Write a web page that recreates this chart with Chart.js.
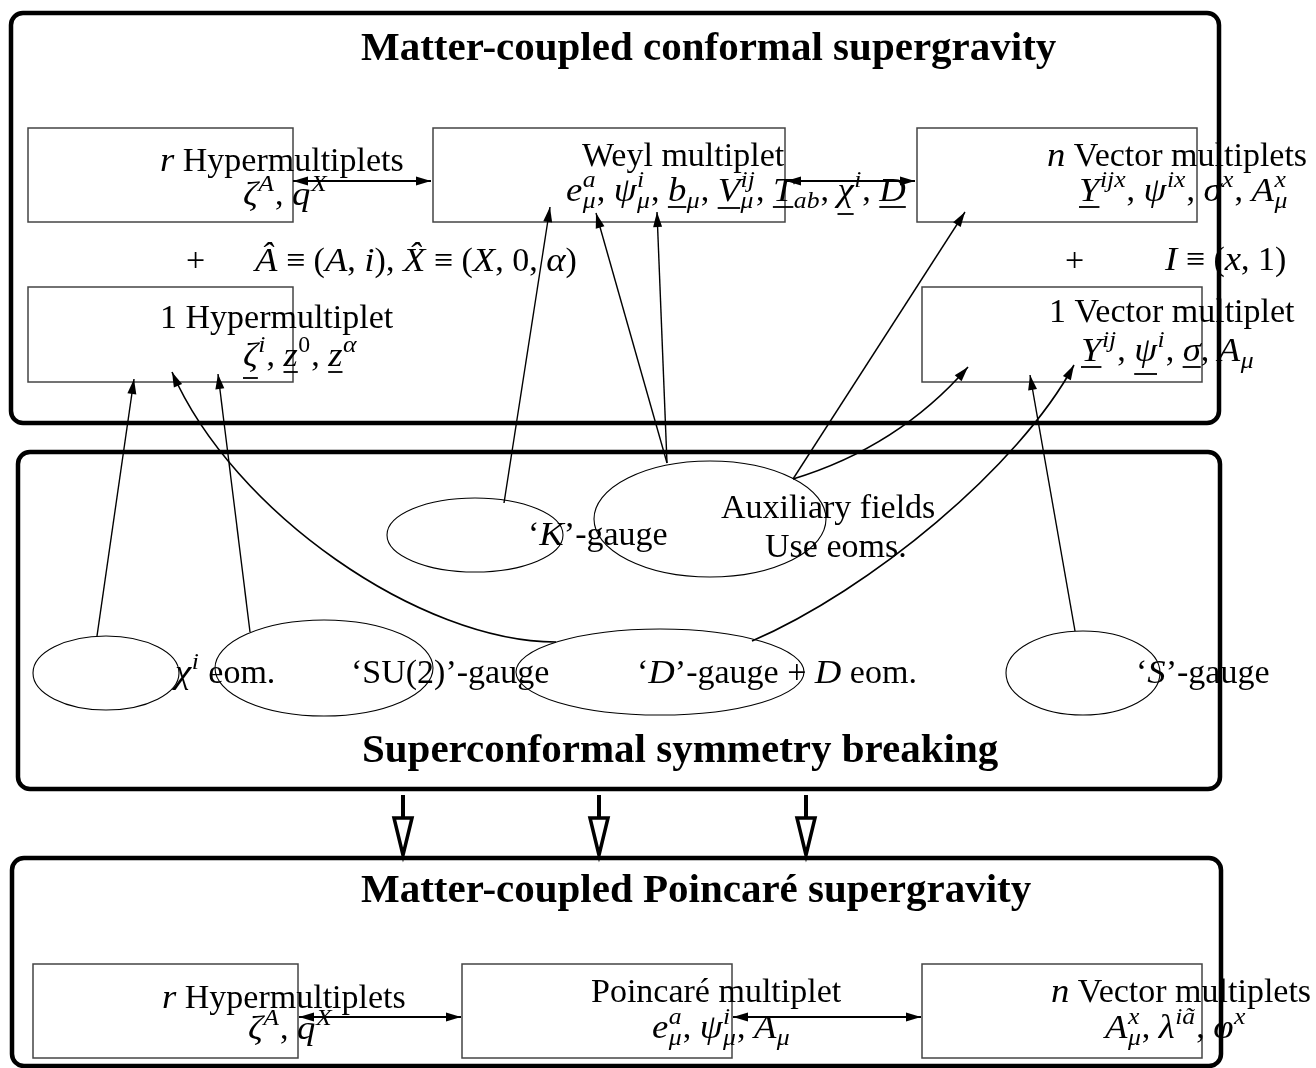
<!DOCTYPE html>
<html>
<head>
<meta charset="utf-8">
<script src="https://cdn.jsdelivr.net/npm/chart.js@4.4.1/dist/chart.umd.min.js"></script>
<style>
  html, body { margin: 0; padding: 0; background: #ffffff; }
  #wrap { width: 1316px; height: 1068px; }
</style>
</head>
<body>
<div id="wrap"><canvas id="diagram" width="1316" height="1068"></canvas></div>
<script>
// ---- diagram data, in picture units (x: 0..1316 left to right, y: 0..1068 top to bottom) ----

// the three big rounded panels
const panelTitles = ['Matter-coupled conformal supergravity', 'Superconformal symmetry breaking', 'Matter-coupled Poincaré supergravity'];
const panelLeft = [11, 18, 12];
const panelRight = [1219, 1220, 1221];
const panelTop = [13, 452, 858];
const panelBottom = [423, 789, 1066];
const titleX = [361, 362, 361];
const titleY = [60, 762, 902];

// thin multiplet boxes
const boxLeft = [28, 433, 917, 28, 922, 33, 462, 922];
const boxRight = [293, 785, 1197, 293, 1202, 298, 732, 1202];
const boxTop = [128, 128, 128, 287, 287, 964, 964, 964];
const boxBottom = [222, 222, 222, 382, 382, 1058, 1058, 1058];

// ellipses in the symmetry breaking panel: chi eom, SU(2), K, auxiliary, D, S
const ellCx = [106, 324, 475, 710, 660, 1083];
const ellCy = [673, 668, 535, 519, 672, 673];
const ellRx = [73, 109, 88, 116, 144, 77];
const ellRy = [37, 48, 37, 58, 43, 42];

// straight one-way links (tail -> head)
const linkFrom = [[97, 636], [250, 632], [504, 503], [667, 463], [667, 463], [793, 479], [1075, 631]];
const linkTo = [[134, 379], [218, 374], [550, 207], [596, 213], [657, 212], [965, 212], [1030, 375]];

// curved links: start, control 1, control 2, head
const curvePts = [
  [[556, 642], [420, 642], [233, 512], [172, 372]],
  [[752, 641], [870, 590], [1019, 467], [1074, 365]],
  [[793, 479], [862, 458], [921, 421], [968, 367]]
];

// two-way horizontal links
const pairX0 = [293, 786, 299, 733];
const pairX1 = [431, 915, 461, 921];
const pairY = [181, 181, 1017, 1017];

// hollow arrows between the middle and bottom panels
const stepX = [403, 599, 806];
const stepTop = [795, 795, 795];
const stepTip = [855, 855, 855];

// text, with *italic*, ^{sup}, _{sub} and [underline]
const labelText = [
  '*r* Hypermultiplets',
  '*ζ*^{*A*}, *q*^{*X*}',
  'Weyl multiplet',
  '*e*^{*a*}_{*μ*}, *ψ*^{*i*}_{*μ*}, [*b*]_{*μ*}, [*V*]^{*ij*}_{*μ*}, [*T*]_{*ab*}, [*χ*]^{*i*}, [*D*]',
  '*n* Vector multiplets',
  '[*Y*]^{*ijx*}, *ψ*^{*ix*}, *σ*^{*x*}, *A*^{*x*}_{*μ*}',
  '+',
  '*Â* ≡ (*A*, *i*), *X̂* ≡ (*X*, 0, *α*)',
  '+',
  '*I* ≡ (*x*, 1)',
  '1 Hypermultiplet',
  '[*ζ*]^{*i*}, [*z*]^{0}, [*z*]^{*α*}',
  '1 Vector multiplet',
  '[*Y*]^{*ij*}, [*ψ*]^{*i*}, [*σ*], *A*_{*μ*}',
  '‘*K*’-gauge',
  'Auxiliary fields',
  'Use eoms.',
  '*χ*^{*i*} eom.',
  '‘SU(2)’-gauge',
  '‘*D*’-gauge + *D* eom.',
  '‘*S*’-gauge',
  '*r* Hypermultiplets',
  '*ζ*^{*A*}, *q*^{*X*}',
  'Poincaré multiplet',
  '*e*^{*a*}_{*μ*}, *ψ*^{*i*}_{*μ*}, *A*_{*μ*}',
  '*n* Vector multiplets',
  '*A*^{*x*}_{*μ*}, *λ*^{*iã*}, *φ*^{*x*}'
];
const labelX = [160, 243, 582, 566, 1047, 1079, 186, 255, 1065, 1165, 160, 243, 1049, 1081,
                528, 721, 765, 175, 351, 637, 1136, 162, 248, 591, 652, 1051, 1105];
const labelY = [171, 205, 166, 201, 166, 201, 271, 271, 271, 270, 328, 366, 322, 361,
                545, 518, 557, 683, 683, 683, 683, 1008, 1039, 1002, 1038, 1002, 1038];

// ---- drawing ----
const FONT = '"Liberation Serif", "Times New Roman", serif';
const TEXT_SIZE = 34;
const MATH_STRETCH = 1.08; // math italics are set a little wider than the text face
const SCRIPT_GAP = 1.5;

// straight links go in as line datasets so the library draws them
const linkSets = [];
linkFrom.forEach(function(p, i) {
  linkSets.push({
    data: [{ x: p[0], y: p[1] }, { x: linkTo[i][0], y: linkTo[i][1] }],
    showLine: true, borderColor: '#000', borderWidth: 1.4, pointRadius: 0, fill: false
  });
});
pairX0.forEach(function(x0, i) {
  linkSets.push({
    data: [{ x: x0, y: pairY[i] }, { x: pairX1[i], y: pairY[i] }],
    showLine: true, borderColor: '#000', borderWidth: 2.2, pointRadius: 0, fill: false
  });
});

function rich(ctx, s, x, y, size, draw) {
  let cx = x, ital = false, i = 0;
  let ulX = null, ulDesc = 0, supX = null;
  while (i < s.length) {
    const c = s[i];
    if (c === '*') { ital = !ital; i++; continue; }
    if (c === '[') { ulX = cx; ulDesc = 0; i++; continue; }
    if (c === ']') {
      if (draw) ctx.fillRect(ulX, y + ulDesc + size * 0.15, cx - ulX, 1.8);
      ulX = null; i++; continue;
    }
    if (c === '^' || c === '_') {
      let depth = 0, j = i + 1;
      for (; j < s.length; j++) {
        if (s[j] === '{') depth++;
        else if (s[j] === '}') { depth--; if (depth === 0) break; }
      }
      const inner = s.slice(i + 2, j);
      if (c === '^') {
        const w = rich(ctx, inner, cx + 0.5, y - size * 0.4, size * 0.7, draw);
        supX = cx; cx += w + SCRIPT_GAP;
      } else {
        const sx = supX !== null ? supX : cx;
        const w = rich(ctx, inner, sx + 0.5, y + size * 0.22, size * 0.7, draw);
        cx = supX !== null ? Math.max(cx, sx + w + SCRIPT_GAP) : cx + w + SCRIPT_GAP;
        supX = null;
      }
      i = j + 1; continue;
    }
    let k = i;
    while (k < s.length && '*[]^_'.indexOf(s[k]) < 0) k++;
    const txt = s.slice(i, k);
    ctx.font = (ital ? 'italic ' : '') + size + 'px ' + FONT;
    const m = ctx.measureText(txt);
    const sc = ital ? MATH_STRETCH : 1;
    if (draw) {
      ctx.save();
      ctx.translate(cx, y);
      ctx.scale(sc, 1);
      ctx.fillText(txt, 0, 0);
      ctx.restore();
    }
    if (ulX !== null) ulDesc = Math.max(ulDesc, m.actualBoundingBoxDescent);
    cx += m.width * sc;
    supX = null;
    i = k;
  }
  return cx - x;
}

function head(ctx, tx, ty, fx, fy) {
  const a = Math.atan2(ty - fy, tx - fx), len = 15, half = 4.5;
  const bx = tx - len * Math.cos(a), by = ty - len * Math.sin(a);
  ctx.beginPath();
  ctx.moveTo(tx, ty);
  ctx.lineTo(bx - half * Math.sin(a), by + half * Math.cos(a));
  ctx.lineTo(bx + half * Math.sin(a), by - half * Math.cos(a));
  ctx.closePath();
  ctx.fill();
}

const diagramPlugin = {
  id: 'diagram',
  beforeDatasetsDraw(chart) {
    const ctx = chart.ctx, sx = chart.scales.x, sy = chart.scales.y;
    const px = v => sx.getPixelForValue(v), py = v => sy.getPixelForValue(v);
    ctx.save();
    ctx.fillStyle = '#fff';
    ctx.fillRect(0, 0, chart.width, chart.height);

    // panels
    ctx.strokeStyle = '#000';
    ctx.lineWidth = 4.5;
    panelLeft.forEach(function(l, i) {
      ctx.beginPath();
      ctx.roundRect(px(l), py(panelTop[i]), px(panelRight[i]) - px(l), py(panelBottom[i]) - py(panelTop[i]), 12);
      ctx.stroke();
    });

    // boxes
    ctx.strokeStyle = '#444';
    ctx.lineWidth = 1.5;
    boxLeft.forEach(function(l, i) {
      ctx.strokeRect(px(l), py(boxTop[i]), px(boxRight[i]) - px(l), py(boxBottom[i]) - py(boxTop[i]));
    });

    // ellipses
    ctx.strokeStyle = '#000';
    ctx.lineWidth = 1.1;
    ellCx.forEach(function(cx, i) {
      ctx.beginPath();
      ctx.ellipse(px(cx), py(ellCy[i]), px(cx + ellRx[i]) - px(cx), py(ellCy[i] + ellRy[i]) - py(ellCy[i]), 0, 0, Math.PI * 2);
      ctx.stroke();
    });

    // curved links
    ctx.lineWidth = 1.6;
    curvePts.forEach(function(c) {
      ctx.beginPath();
      ctx.moveTo(px(c[0][0]), py(c[0][1]));
      ctx.bezierCurveTo(px(c[1][0]), py(c[1][1]), px(c[2][0]), py(c[2][1]), px(c[3][0]), py(c[3][1]));
      ctx.stroke();
    });

    // hollow arrows
    stepX.forEach(function(x, i) {
      const shaftEnd = stepTip[i] - 37;
      ctx.lineWidth = 4;
      ctx.beginPath();
      ctx.moveTo(px(x), py(stepTop[i]));
      ctx.lineTo(px(x), py(shaftEnd));
      ctx.stroke();
      ctx.lineWidth = 3.5;
      ctx.lineJoin = 'miter';
      ctx.beginPath();
      ctx.moveTo(px(x - 9), py(shaftEnd));
      ctx.lineTo(px(x + 9), py(shaftEnd));
      ctx.lineTo(px(x), py(stepTip[i]));
      ctx.closePath();
      ctx.fillStyle = '#fff';
      ctx.fill();
      ctx.stroke();
    });
    ctx.restore();
  },
  afterDatasetsDraw(chart) {
    const ctx = chart.ctx, sx = chart.scales.x, sy = chart.scales.y;
    const px = v => sx.getPixelForValue(v), py = v => sy.getPixelForValue(v);
    ctx.save();
    ctx.fillStyle = '#000';

    // arrow heads
    linkTo.forEach(function(t, i) {
      head(ctx, px(t[0]), py(t[1]), px(linkFrom[i][0]), py(linkFrom[i][1]));
    });
    curvePts.forEach(function(c) {
      head(ctx, px(c[3][0]), py(c[3][1]), px(c[2][0]), py(c[2][1]));
    });
    pairX0.forEach(function(x0, i) {
      const y = py(pairY[i]);
      head(ctx, px(x0), y, px(pairX1[i]), y);
      head(ctx, px(pairX1[i]), y, px(x0), y);
    });

    // titles
    ctx.textBaseline = 'alphabetic';
    ctx.textAlign = 'left';
    ctx.font = 'bold 41px ' + FONT;
    panelTitles.forEach(function(t, i) {
      ctx.fillText(t, px(titleX[i]), py(titleY[i]));
    });

    // labels
    labelText.forEach(function(t, i) {
      rich(ctx, t, px(labelX[i]), py(labelY[i]), TEXT_SIZE, true);
    });
    ctx.restore();
  }
};

new Chart(document.getElementById('diagram').getContext('2d'), {
  type: 'scatter',
  data: { datasets: linkSets },
  options: {
    responsive: false,
    animation: false,
    devicePixelRatio: 1,
    events: [],
    layout: { padding: 0 },
    plugins: { legend: { display: false }, tooltip: { enabled: false } },
    scales: {
      x: { type: 'linear', min: 0, max: 1316, display: false },
      y: { type: 'linear', min: 0, max: 1068, reverse: true, display: false }
    }
  },
  plugins: [diagramPlugin]
});
</script>
</body>
</html>
